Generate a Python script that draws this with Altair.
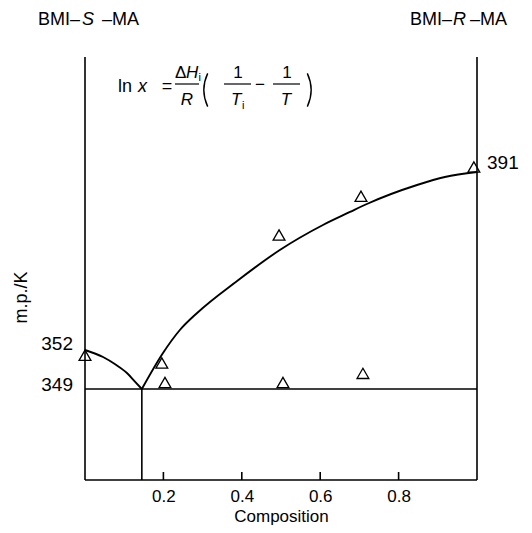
import altair as alt
import pandas as pd

# ---------------- data ----------------
# left liquidus (BMI-S-MA rich side)
left_x = [0.0, 0.046, 0.077, 0.107, 0.128, 0.145]
left_T = [352.0, 351.46, 350.9, 350.23, 349.55, 349.0]
# right liquidus
right_x = [0.145, 0.199, 0.242, 0.286, 0.388, 0.497, 0.607, 0.676, 0.719, 0.847, 0.918, 1.0]
right_T = [349.0, 351.77, 356.38, 360.11, 367.12, 373.91, 379.39, 382.24, 383.99, 388.15, 389.91, 391.0]
# measured points (triangles)
tri_x = [0.0, 0.196, 0.204, 0.495, 0.505, 0.704, 0.709, 0.992]
tri_T = [351.6, 351.0, 349.5, 377.2, 349.5, 385.7, 350.2, 392.1]
# axis
x_ticks = [0.2, 0.4, 0.6, 0.8]
T_bottom, T_eut, T_S, T_R, T_top = 342.0, 349.0, 352.0, 391.0, 416.0
x_eut = 0.145
mp_labels = ["352", "349", "391"]

# ---------------- layout ----------------
W, H = 392, 423
FONT = "Liberation Sans"
SW = 1.6

xs = alt.Scale(domain=[0, 1], nice=False, zero=False)
# schematic (piecewise) temperature axis as in the original figure
ys = alt.Scale(domain=[T_bottom, T_eut, T_S, T_R, T_top],
               range=[H, 332, 293, 115, 0], nice=False, zero=False)

x_axis = alt.Axis(values=x_ticks, format=".1f", ticks=False, domain=False, grid=False,
                  labelFontSize=17, labelPadding=8, labelColor="black", labelFont=FONT,
                  title="Composition", titleFontSize=17, titleFontWeight="normal",
                  titleColor="black", titleFont=FONT, titleY=41, titleBaseline="alphabetic")
y_axis = alt.Axis(labels=False, ticks=False, domain=False, grid=False,
                  title="m.p./K", titleFontSize=18, titleFontWeight="normal",
                  titleColor="black", titleFont=FONT, titleAngle=270,
                  titleX=-64, titleY=240, titleAlign="center", titleBaseline="middle")


def X(field="x"):
    return alt.X(field, type="quantitative", scale=xs, axis=x_axis, title="Composition")


def Y(field="T"):
    return alt.Y(field, type="quantitative", scale=ys, axis=y_axis, title="m.p./K")


frame_df = pd.DataFrame({
    "x":  [0.0, 1.0, 0.0, 0.0, x_eut],
    "x2": [0.0, 1.0, 1.0, 1.0, x_eut],
    "T":  [T_bottom, T_bottom, T_bottom, T_eut, T_bottom],
    "T2": [T_top, T_top, T_bottom, T_eut, T_eut],
})
frame = alt.Chart(frame_df).mark_rule(color="black", strokeWidth=SW).encode(
    x=X(), x2="x2", y=Y(), y2="T2")

ticks = alt.Chart(pd.DataFrame({"x": x_ticks})).mark_rule(color="black", strokeWidth=SW).encode(
    x=X(), y=alt.value(H), y2=alt.value(H - 8))

left_line = alt.Chart(pd.DataFrame({"x": left_x, "T": left_T})).mark_line(
    color="black", strokeWidth=1.9, interpolate="monotone").encode(x=X(), y=Y())
right_line = alt.Chart(pd.DataFrame({"x": right_x, "T": right_T})).mark_line(
    color="black", strokeWidth=1.9, interpolate="monotone").encode(x=X(), y=Y())

tri = alt.Chart(pd.DataFrame({"x": tri_x, "T": tri_T})).mark_point(
    shape="triangle-up", filled=False, color="black", strokeWidth=1.3, size=140, opacity=1
).encode(x=X(), y=Y())

lab_df = pd.DataFrame({"x": [0.0, 0.0, 1.0], "T": [T_S, T_eut, T_R], "lab": mp_labels})
lab352 = alt.Chart(lab_df.iloc[[0]]).mark_text(
    align="right", baseline="middle", dx=-12, dy=-6, fontSize=19, font=FONT, color="black"
).encode(x=X(), y=Y(), text="lab:N")
lab349 = alt.Chart(lab_df.iloc[[1]]).mark_text(
    align="right", baseline="middle", dx=-12, dy=-4, fontSize=19, font=FONT, color="black"
).encode(x=X(), y=Y(), text="lab:N")
lab391 = alt.Chart(lab_df.iloc[[2]]).mark_text(
    align="left", baseline="middle", dx=10, dy=-9, fontSize=19, font=FONT, color="black"
).encode(x=X(), y=Y(), text="lab:N")

one = pd.DataFrame({"a": [0]})


def txt(s, x, y, size=17, align="center", baseline="alphabetic", style="normal"):
    return alt.Chart(one).mark_text(
        text=s, align=align, baseline=baseline, fontSize=size, font=FONT,
        fontStyle=style, color="black"
    ).encode(x=alt.value(x), y=alt.value(y))


def bar(x1, x2, y):
    return alt.Chart(one).mark_rule(color="black", strokeWidth=1.2).encode(
        x=alt.value(x1), x2=alt.value(x2), y=alt.value(y))


def paren(cx, cy, t1, t2):
    # thin tall bracket drawn as a narrow ring segment
    return alt.Chart(one).mark_arc(
        radius=40, radius2=38.6, theta=t1, theta2=t2, color="black"
    ).encode(x=alt.value(cx), y=alt.value(cy))


notes = [
    # component labels
    txt("BMI–", -5, -37, 18, "right", "middle"),
    txt("S", -3, -37, 18, "left", "middle", "italic"),
    txt("–MA", 17, -37, 18, "left", "middle"),
    txt("BMI–", 367, -37, 18, "right", "middle"),
    txt("R", 368, -37, 18, "left", "middle", "italic"),
    txt("–MA", 385, -37, 18, "left", "middle"),
    # Schroeder-van Laar equation
    txt("ln", 33, 35, 18, "left"),
    txt("x", 53, 35, 18, "left", style="italic"),
    txt("=", 82, 35, 18),
    txt("Δ", 90, 21, 17, "left"),
    txt("H", 101, 21, 17, "left", style="italic"),
    txt("i", 113.5, 24, 11, "left"),
    txt("R", 102, 48, 17, style="italic"),
    txt("1", 153, 21, 17),
    txt("T", 146, 48, 17, "left", style="italic"),
    txt("i", 157, 52, 11, "left"),
    txt("−", 175, 33, 17),
    txt("1", 202, 21, 17),
    txt("T", 201, 48, 17, style="italic"),
    bar(90, 114, 27),
    bar(139, 166, 27),
    bar(188, 215, 27),
    paren(158.3, 33, 4.276, 5.149),
    paren(186.7, 33, 1.134, 2.007),
]

chart = alt.layer(frame, ticks, left_line, right_line, tri, lab352, lab349, lab391, *notes).properties(
    width=W, height=H,
    padding={"left": 77, "top": 49, "right": 47, "bottom": 45},
    autosize=alt.AutoSizeParams(type="none"),
).configure_view(stroke=None)

chart.save("out.html", embed_options={"renderer": "svg", "actions": False})
